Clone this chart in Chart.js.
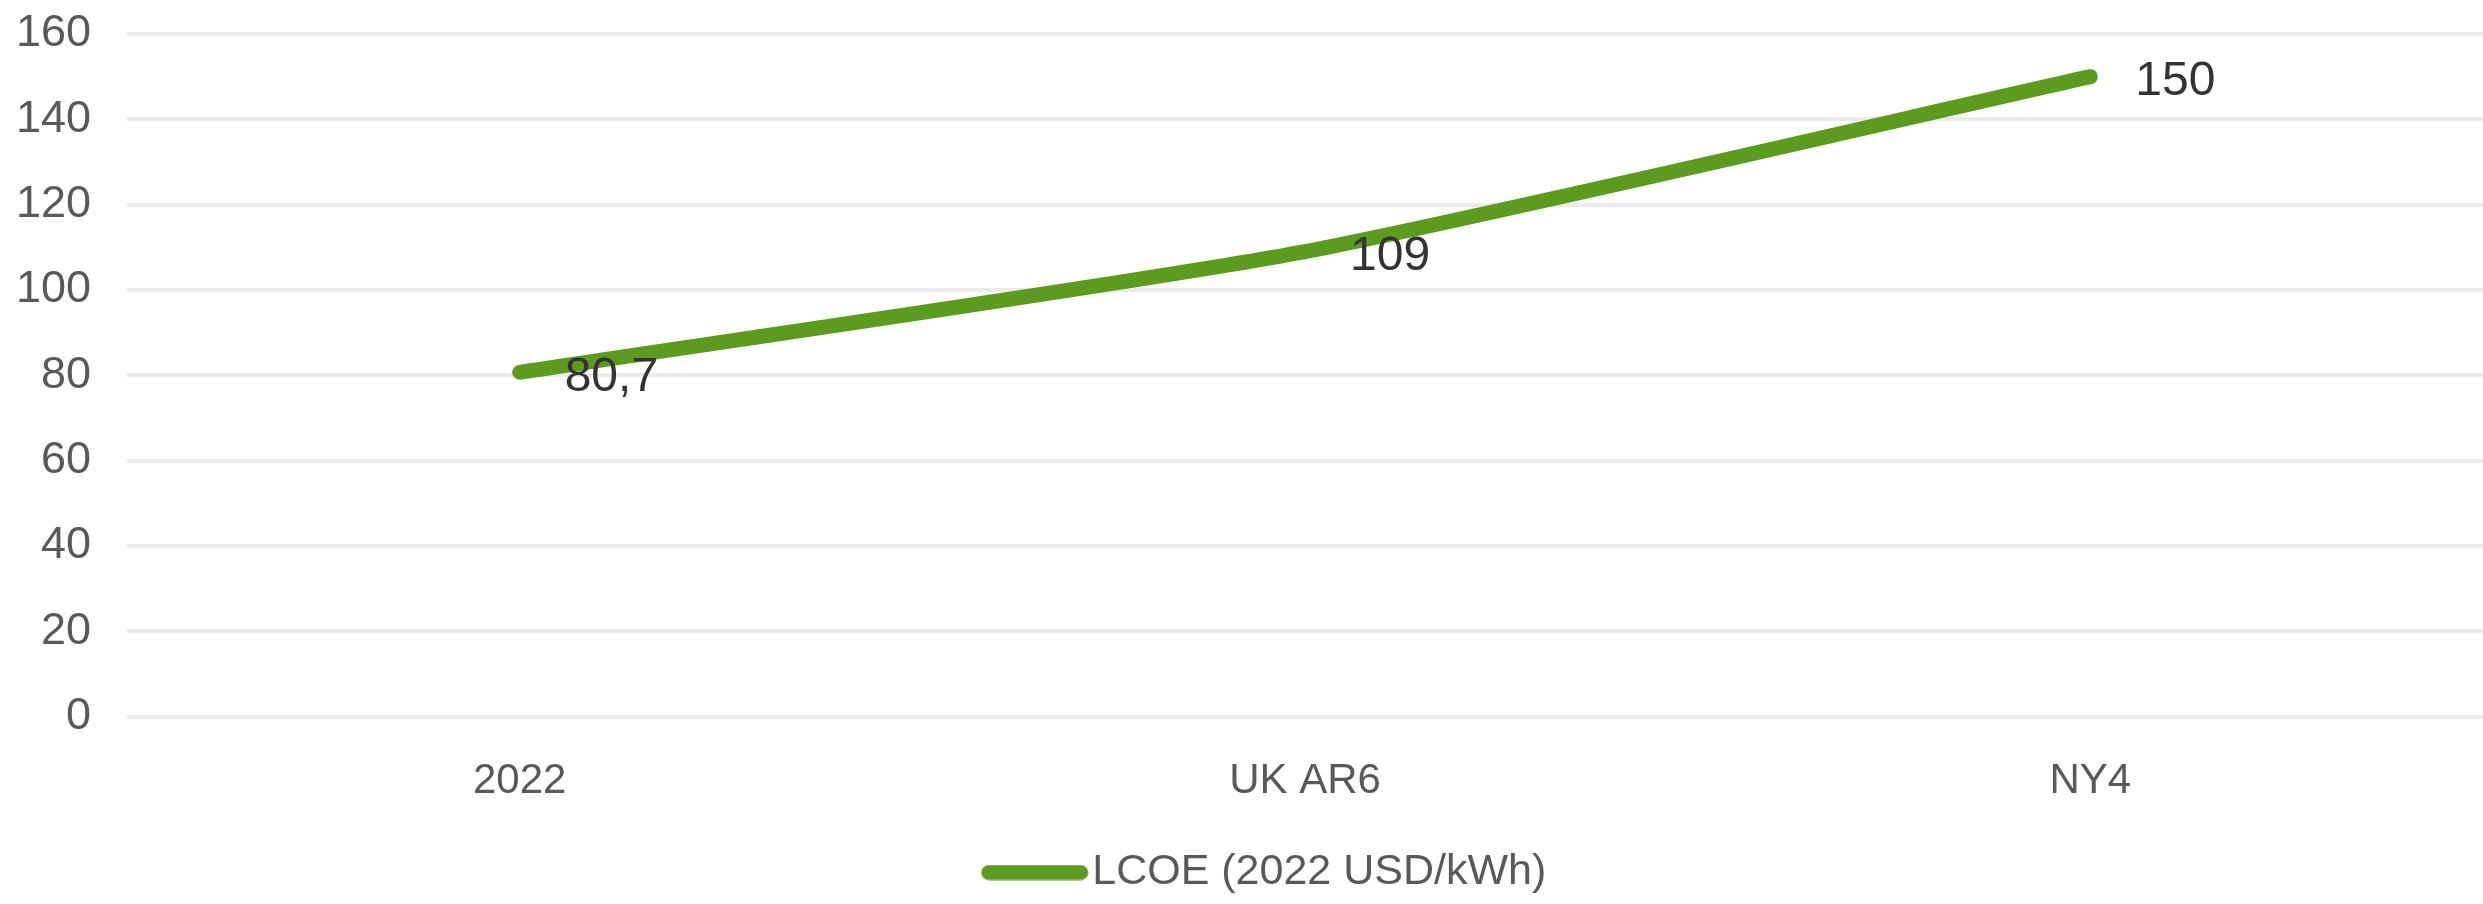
<!DOCTYPE html>
<html>
<head>
<meta charset="utf-8">
<script src="https://cdn.jsdelivr.net/npm/chart.js@4"></script>
<style>
  html, body { margin: 0; padding: 0; background: #fff; }
  #wrap { width: 2483px; height: 904px; }
</style>
</head>
<body>
<div id="wrap"><canvas id="lcoeChart" width="2483" height="904"></canvas></div>
<script>
const categories = ['2022', 'UK AR6', 'NY4']
const lcoeValues = [80.7, 109, 150]
const seriesName = 'LCOE (2022 USD/kWh)'
const yTicks = { min: 0, max: 160, step: 20 }

const green = '#5c9b1f'
const fontFamily = '"Liberation Sans", Arial, Helvetica, sans-serif'

// legend swatch: a rounded line sitting right next to the label text
const swatch = document.createElement('canvas')
swatch.width = 170
swatch.height = 16
const sctx = swatch.getContext('2d')
sctx.strokeStyle = green
sctx.lineWidth = 15
sctx.lineCap = 'round'
sctx.beginPath()
sctx.moveTo(70, 8)
sctx.lineTo(162, 8)
sctx.stroke()

// value labels to the right of each point, with a decimal comma
const valueLabels = {
  id: 'valueLabels',
  afterDatasetsDraw (chart) {
    const ctx = chart.ctx
    const meta = chart.getDatasetMeta(0)
    ctx.save()
    ctx.font = '48px ' + fontFamily
    ctx.fillStyle = '#333333'
    ctx.textAlign = 'left'
    ctx.textBaseline = 'middle'
    meta.data.forEach((pt, i) => {
      const txt = String(chart.data.datasets[0].data[i]).replace('.', ',')
      ctx.fillText(txt, pt.x + 45, pt.y + 5)
    })
    ctx.restore()
  }
}

const ctx = document.getElementById('lcoeChart').getContext('2d')
const lcoeChart = new Chart(ctx, {
  type: 'line',
  data: {
    labels: categories,
    datasets: [{
      label: seriesName,
      data: lcoeValues,
      borderColor: green,
      backgroundColor: green,
      borderWidth: 15,
      borderCapStyle: 'round',
      borderJoinStyle: 'round',
      tension: 0.2,
      pointRadius: 0,
      pointHoverRadius: 0
    }]
  },
  options: {
    responsive: false,
    devicePixelRatio: 1,
    animation: false,
    layout: { padding: { top: 34, right: 0, bottom: 0, left: 0 } },
    scales: {
      x: {
        offset: true,
        grid: { display: false, drawTicks: false },
        border: { display: false },
        ticks: {
          color: '#595959',
          padding: 40,
          font: { family: fontFamily, size: 42 }
        }
      },
      y: {
        min: yTicks.min,
        max: yTicks.max,
        afterFit: (scale) => {
          scale.width = 127
          scale.paddingTop = 0
          scale.paddingBottom = 0
        },
        grid: { color: '#ebebeb', lineWidth: 4, drawTicks: false },
        border: { display: false },
        ticks: {
          stepSize: yTicks.step,
          color: '#595959',
          padding: 36,
          font: { family: fontFamily, size: 45 }
        }
      }
    },
    plugins: {
      legend: {
        position: 'bottom',
        labels: {
          usePointStyle: true,
          pointStyleWidth: 134,
          color: '#595959',
          padding: 4,
          font: { family: fontFamily, size: 43 },
          generateLabels (chart) {
            const items = Chart.defaults.plugins.legend.labels.generateLabels(chart)
            items.forEach(it => { it.pointStyle = swatch })
            return items
          }
        }
      },
      tooltip: { enabled: false }
    }
  },
  plugins: [valueLabels]
})
</script>
</body>
</html>
